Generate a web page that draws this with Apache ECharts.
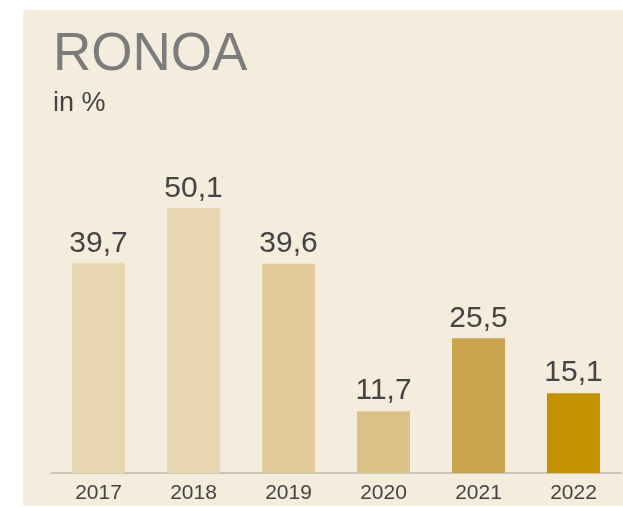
<!DOCTYPE html>
<html>
<head>
    <meta charset="utf-8">
    <title>RONOA</title>
    <script type="text/javascript" src="https://cdn.jsdelivr.net/npm/echarts@6/dist/echarts.min.js"></script>
    <style>
        html, body { margin: 0; padding: 0; background: #ffffff; }
        #panel { position: absolute; left: 23px; top: 10px; width: 600px; height: 496px; background: #F4ECDC; }
        #main { position: absolute; left: 0; top: 0; width: 623px; height: 507px; }
    </style>
</head>
<body>
<div id="panel"></div>
<div id="main"></div>
<script type="text/javascript">
    // Daten
    var years = ['2017', '2018', '2019', '2020', '2021', '2022'];
    var ronoa = [39.7, 50.1, 39.6, 11.7, 25.5, 15.1];
    var barColors = ['#E8D6B0', '#E8D6B0', '#E2CC9C', '#DCC287', '#CBA34F', '#C49200'];

    var myChart = echarts.init(document.getElementById('main'));

    myChart.setOption({
        animation: false,
        title: {
            text: 'RONOA',
            subtext: 'in %',
            left: 48,
            top: 24,
            itemGap: 8,
            textStyle: {
                color: '#7C7C7C',
                fontFamily: 'Liberation Sans, Arial, sans-serif',
                fontWeight: 'normal',
                fontSize: 53
            },
            subtextStyle: {
                color: '#444444',
                fontFamily: 'Liberation Sans, Arial, sans-serif',
                fontSize: 27
            }
        },
        grid: {
            left: 51,
            right: 2,
            top: 156,
            bottom: 34
        },
        xAxis: {
            type: 'category',
            data: years,
            axisLine: { lineStyle: { color: '#CCC5BA', width: 2 } },
            axisTick: { show: false },
            axisLabel: {
                color: '#444444',
                fontFamily: 'Liberation Sans, Arial, sans-serif',
                fontSize: 21,
                margin: 10
            }
        },
        yAxis: {
            type: 'value',
            min: 0,
            max: 60,
            show: false,
            splitLine: { show: false }
        },
        series: [{
            type: 'bar',
            data: ronoa.map(function (v, i) {
                return { value: v, itemStyle: { color: barColors[i] } };
            }),
            barWidth: 53,
            label: {
                show: true,
                position: 'top',
                distance: 5,
                color: '#444444',
                fontFamily: 'Liberation Sans, Arial, sans-serif',
                fontSize: 30,
                formatter: function (p) {
                    return p.value.toFixed(1).replace('.', ',');
                }
            }
        }]
    });
</script>
</body>
</html>
